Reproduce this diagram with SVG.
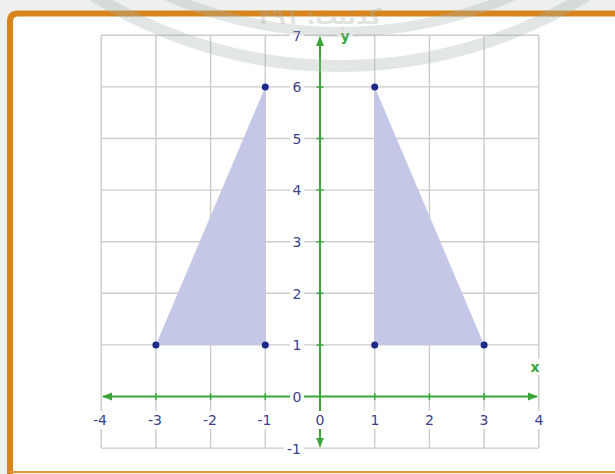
<svg xmlns="http://www.w3.org/2000/svg" width="615" height="474" viewBox="0 0 615 474">
<style>
.grid{stroke:#cccccc;stroke-width:1.4;fill:none}
.axis{stroke:#3aa63a;stroke-width:2;fill:none}
.tick{stroke:#3aa63a;stroke-width:1.5}
.lbl{font-family:"DejaVu Sans",Verdana,sans-serif;font-size:14px;fill:#3b3f8e;text-anchor:middle}
.bg{fill:#ffffff}
.axl{font-family:"DejaVu Sans",Verdana,sans-serif;font-size:14px;font-weight:bold;fill:#3aa63a;text-anchor:middle}
.tri{fill:#c5c7e7;stroke:none}
.pt{fill:#1d2a8a}
.wm{fill:none;stroke:#a7b3ac;opacity:0.33}
</style>
<defs>
<marker id="ah" viewBox="0 0 10 10" refX="9" refY="5" markerWidth="5" markerHeight="5" orient="auto-start-reverse">
<path d="M0,1 L10,5 L0,9 Z" fill="#3aa63a"/>
</marker>
</defs>
<rect x="0" y="0" width="615" height="474" fill="#eef0ee"/>
<g id="frame">
<rect x="10" y="13.5" width="620" height="458" rx="8" fill="#ffffff"/>
<path d="M10,474 L10,21.5 Q10,13.5 18,13.5 L615,13.5" fill="none" stroke="#d7841c" stroke-width="6"/>
<line x1="10" y1="472" x2="615" y2="472" stroke="#e59a3a" stroke-width="2"/>
</g>
<g id="grid">
<path class="grid" d="M101.2,35.3V448.1M155.9,35.3V448.1M210.6,35.3V448.1M265.3,35.3V448.1M374.7,35.3V448.1M429.4,35.3V448.1M484.1,35.3V448.1M538.8,35.3V448.1"/>
<path class="grid" d="M101.2,35.3H538.8M101.2,86.9H538.8M101.2,138.5H538.8M101.2,190.1H538.8M101.2,241.7H538.8M101.2,293.3H538.8M101.2,344.9H538.8M101.2,448.1H538.8"/>
</g>
<g id="triangle-left">
<polygon class="tri" points="155.9,344.9 265.3,344.9 265.3,86.9"/>
</g>
<g id="triangle-right">
<polygon class="tri" points="374.7,344.9 484.1,344.9 374.7,86.9"/>
</g>
<g id="connectors">
<line class="axis" x1="103" y1="396.5" x2="537" y2="396.5" marker-start="url(#ah)" marker-end="url(#ah)"/>
<line class="axis" x1="320" y1="37" x2="320" y2="446.5" marker-start="url(#ah)" marker-end="url(#ah)"/>
<path class="tick" d="M155.9,393V400M210.6,393V400M265.3,393V400M374.7,393V400M429.4,393V400M484.1,393V400M316.5,86.9H323.5M316.5,138.5H323.5M316.5,190.1H323.5M316.5,241.7H323.5M316.5,293.3H323.5M316.5,344.9H323.5"/>
</g>
<g id="points">
<circle class="pt" cx="155.9" cy="344.9" r="3.5"/>
<circle class="pt" cx="265.3" cy="344.9" r="3.5"/>
<circle class="pt" cx="265.3" cy="86.9" r="3.5"/>
<circle class="pt" cx="374.7" cy="344.9" r="3.5"/>
<circle class="pt" cx="484.1" cy="344.9" r="3.5"/>
<circle class="pt" cx="374.7" cy="86.9" r="3.5"/>
</g>
<g id="y-labels">
<rect class="bg" x="290" y="28" width="14" height="16"/>
<rect class="bg" x="290" y="78" width="14" height="18"/>
<rect class="bg" x="290" y="129" width="14" height="18"/>
<rect class="bg" x="290" y="181" width="14" height="18"/>
<rect class="bg" x="290" y="233" width="14" height="18"/>
<rect class="bg" x="290" y="284" width="14" height="18"/>
<rect class="bg" x="290" y="336" width="14" height="18"/>
<rect class="bg" x="290" y="388" width="14" height="18"/>
<rect class="bg" x="284" y="439" width="20" height="18"/>
<text class="lbl" x="297" y="40.5">7</text>
<text class="lbl" x="297" y="92">6</text>
<text class="lbl" x="297" y="143.5">5</text>
<text class="lbl" x="297" y="195">4</text>
<text class="lbl" x="297" y="247">3</text>
<text class="lbl" x="297" y="298.5">2</text>
<text class="lbl" x="297" y="350">1</text>
<text class="lbl" x="297" y="401.5">0</text>
<text class="lbl" x="294" y="453.5">-1</text>
</g>
<g id="x-labels">
<rect class="bg" x="91" y="411" width="20" height="18"/>
<rect class="bg" x="146" y="411" width="20" height="18"/>
<rect class="bg" x="200" y="411" width="21" height="18"/>
<rect class="bg" x="255" y="411" width="21" height="18"/>
<rect class="bg" x="313" y="411" width="14" height="18"/>
<rect class="bg" x="368" y="411" width="14" height="18"/>
<rect class="bg" x="422" y="411" width="14" height="18"/>
<rect class="bg" x="477" y="411" width="14" height="18"/>
<rect class="bg" x="532" y="411" width="14" height="18"/>
<text class="lbl" x="100" y="425">-4</text>
<text class="lbl" x="155" y="425">-3</text>
<text class="lbl" x="210" y="425">-2</text>
<text class="lbl" x="264.5" y="425">-1</text>
<text class="lbl" x="320" y="425">0</text>
<text class="lbl" x="375" y="425">1</text>
<text class="lbl" x="429.5" y="425">2</text>
<text class="lbl" x="484" y="425">3</text>
<text class="lbl" x="539" y="425">4</text>
</g>
<g id="axis-names">
<rect class="bg" x="337" y="29" width="16" height="14"/>
<text class="axl" x="345" y="41">y</text>
<rect class="bg" x="527" y="359" width="16" height="16"/>
<text class="axl" x="535" y="372">x</text>
</g>
<g id="watermark">
<circle class="wm" cx="340" cy="-400" r="466" stroke-width="12"/>
<circle class="wm" cx="340" cy="-400" r="432" stroke-width="10"/>
<text x="320" y="24" font-family="'DejaVu Sans',sans-serif" font-size="22" font-weight="bold" fill="#a7b3ac" opacity="0.35" text-anchor="middle" direction="rtl">کدثبت: ۴۹۱</text>
</g>
</svg>
